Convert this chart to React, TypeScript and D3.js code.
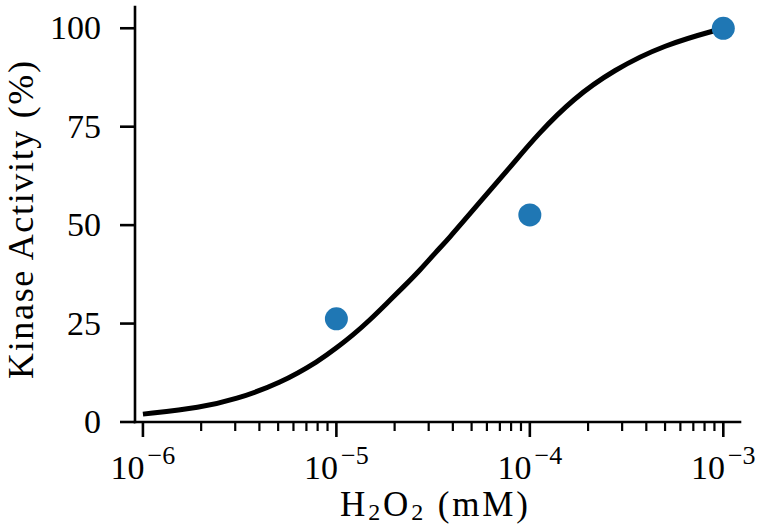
import React from "react";
import * as d3 from "d3";

const W = 765;
const H = 526;

// Measured points (H2O2 in mM, kinase activity %)
const pointConc = [1e-5, 1e-4, 1e-3];
const pointActivity = [26.2, 52.6, 100];

// Fitted curve
const curveConc = [
  1e-6, 2.01e-6, 2.99e-6, 5.12e-6, 8.24e-6, 1.0e-5, 1.22e-5, 1.49e-5,
  1.82e-5, 2.22e-5, 2.71e-5, 3.3e-5, 3.72e-5, 5.53e-5, 8.22e-5, 1.09e-4,
  1.68e-4, 2.71e-4, 4.92e-4, 1e-3,
];
const curveActivity = [
  2.0, 3.7, 5.7, 9.8, 15.7, 18.8, 22.1, 25.9, 30.1, 34.3, 38.6, 43.4, 46.0,
  55.9, 65.7, 72.9, 82.2, 89.4, 95.8, 100.0,
];

const yTicks = [0, 25, 50, 75, 100];
const xMajorTicks = [1e-6, 1e-5, 1e-4, 1e-3];
const xMajorExp = ["−6", "−5", "−4", "−3"];

const xDomain: [number, number] = [9.1e-7, 1.22e-3];
const yDomain: [number, number] = [0, 105.4];

const FONT = "'Liberation Serif', 'DejaVu Serif', serif";

export default function App() {
  const x = d3.scaleLog().domain(xDomain).range([135, 740]);
  const y = d3.scaleLinear().domain(yDomain).range([422, 7]);

  // minor ticks 2..9 per decade within domain
  const minorTicks: number[] = [];
  for (let e = -7; e <= -3; e++) {
    for (let m = 2; m <= 9; m++) {
      const v = m * Math.pow(10, e);
      if (v >= xDomain[0] && v <= xDomain[1]) minorTicks.push(v);
    }
  }

  const line = d3
    .line<number>()
    .x((_, i) => x(curveConc[i]))
    .y((d) => y(d))
    .curve(d3.curveBasis);

  const x0 = x(xDomain[0]);
  const x1 = x(xDomain[1]);
  const yb = y(0);
  const yt = y(yDomain[1]);

  return (
    <svg
      width={W}
      height={H}
      style={{ position: "absolute", left: 0, top: 0, background: "#fff" }}
      fontFamily={FONT}
    >
      <rect x={0} y={0} width={W} height={H} fill="#fff" />
      {/* curve */}
      <path
        d={line(curveActivity) || ""}
        fill="none"
        stroke="#000"
        strokeWidth={5}
        strokeLinejoin="round"
      />
      {/* points */}
      {pointConc.map((c, i) => (
        <circle
          key={i}
          cx={x(c)}
          cy={y(pointActivity[i])}
          r={11.5}
          fill="#1f77b4"
        />
      ))}
      {/* spines */}
      <line x1={x0} x2={x1} y1={yb} y2={yb} stroke="#000" strokeWidth={2.6} strokeLinecap="square" />
      <line x1={x0} x2={x0} y1={yb} y2={yt} stroke="#000" strokeWidth={2.6} strokeLinecap="square" />
      {/* y ticks */}
      {yTicks.map((t) => (
        <g key={t}>
          <line x1={x0 - 15} x2={x0} y1={y(t)} y2={y(t)} stroke="#000" strokeWidth={2.6} />
          <text
            x={x0 - 34}
            y={y(t)}
            dy="0.33em"
            textAnchor="end"
            fontSize={34}
            fill="#000"
          >
            {t}
          </text>
        </g>
      ))}
      {/* x minor ticks */}
      {minorTicks.map((t) => (
        <line key={t} x1={x(t)} x2={x(t)} y1={yb} y2={yb + 9} stroke="#000" strokeWidth={2.2} />
      ))}
      {/* x major ticks */}
      {xMajorTicks.map((t, i) => (
        <g key={t}>
          <line x1={x(t)} x2={x(t)} y1={yb} y2={yb + 15} stroke="#000" strokeWidth={2.6} />
          <text x={x(t)} y={479} textAnchor="middle" fontSize={34} fill="#000">
            10
            <tspan fontSize={26} dx={3} dy={-15}>
              {xMajorExp[i]}
            </tspan>
          </text>
        </g>
      ))}
      {/* x label */}
      <text
        x={434}
        y={516}
        textAnchor="middle"
        fontSize={35}
        fill="#000"
        textLength={188}
        lengthAdjust="spacing"
      >
        H
        <tspan fontSize={24} dy={4}>2</tspan>
        <tspan dy={-4}>O</tspan>
        <tspan fontSize={24} dy={4}>2</tspan>
        <tspan dy={-4}> (mM)</tspan>
      </text>
      {/* y label */}
      <text
        transform={`translate(33, 220) rotate(-90)`}
        textAnchor="middle"
        fontSize={36}
        fill="#000"
        textLength={318}
        lengthAdjust="spacing"
      >
        Kinase Activity (%)
      </text>
    </svg>
  );
}
